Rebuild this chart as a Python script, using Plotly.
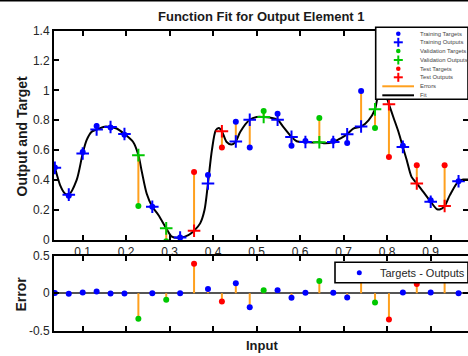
import plotly.graph_objects as go

W, H = 468, 356

# ---------------- data ----------------
x_in = [0.036, 0.068, 0.100, 0.132, 0.164, 0.196, 0.228, 0.260, 0.292, 0.324,
        0.356, 0.388, 0.420, 0.452, 0.484, 0.516, 0.548, 0.580, 0.612, 0.644,
        0.676, 0.708, 0.740, 0.772, 0.804, 0.836, 0.868, 0.900, 0.932, 0.964]
targets = [0.485, 0.295, 0.588, 0.762, 0.751, 0.703, 0.227, 0.222, -0.008, 0.016,
           0.455, 0.435, 0.618, 0.790, 0.618, 0.862, 0.844, 0.629, 0.662, 0.816,
           0.662, 0.649, 0.995, 0.749, 0.555, 0.630, 0.500, 0.265, 0.500, 0.393]
outputs = [0.482, 0.303, 0.578, 0.738, 0.755, 0.708, 0.567, 0.222, 0.078, 0.016,
           0.062, 0.378, 0.727, 0.658, 0.804, 0.822, 0.804, 0.689, 0.655, 0.653,
           0.655, 0.707, 0.758, 0.873, 0.907, 0.622, 0.378, 0.256, 0.227, 0.393]
sets = ['train', 'train', 'train', 'train', 'train', 'train', 'val', 'train', 'val', 'train',
        'test', 'train', 'test', 'train', 'train', 'val', 'train', 'train', 'train', 'val',
        'train', 'train', 'train', 'val', 'test', 'train', 'test', 'train', 'test', 'train']

fit_x = [0.034, 0.036, 0.048, 0.059, 0.068, 0.086, 0.100, 0.109, 0.120, 0.132,
         0.150, 0.164, 0.178, 0.196, 0.216, 0.228, 0.236, 0.247, 0.260, 0.274,
         0.292, 0.305, 0.324, 0.343, 0.356, 0.370, 0.380, 0.388, 0.397, 0.406,
         0.413, 0.420, 0.431, 0.442, 0.452, 0.462, 0.484, 0.500, 0.516, 0.530,
         0.548, 0.561, 0.580, 0.592, 0.612, 0.630, 0.644, 0.657, 0.676, 0.692,
         0.708, 0.722, 0.740, 0.757, 0.772, 0.778, 0.786, 0.795, 0.804, 0.814,
         0.826, 0.836, 0.845, 0.856, 0.868, 0.883, 0.900, 0.914, 0.922, 0.932,
         0.944, 0.964, 0.975, 0.986]
fit_y = [0.495, 0.482, 0.367, 0.311, 0.303, 0.400, 0.578, 0.667, 0.722, 0.738,
         0.757, 0.755, 0.745, 0.708, 0.655, 0.567, 0.455, 0.311, 0.222, 0.167,
         0.078, 0.022, 0.016, 0.033, 0.062, 0.111, 0.200, 0.378, 0.600, 0.733,
         0.748, 0.727, 0.655, 0.638, 0.658, 0.722, 0.804, 0.822, 0.822, 0.818,
         0.804, 0.756, 0.689, 0.660, 0.655, 0.652, 0.653, 0.646, 0.655, 0.678,
         0.707, 0.745, 0.758, 0.800, 0.873, 0.955, 1.000, 0.980, 0.907, 0.822,
         0.722, 0.622, 0.533, 0.422, 0.378, 0.322, 0.256, 0.207, 0.205, 0.227,
         0.300, 0.393, 0.404, 0.404]

x_ticks = [0.1, 0.2, 0.3, 0.4, 0.5, 0.6, 0.7, 0.8, 0.9]
x_tick_text = ['0.1', '0.2', '0.3', '0.4', '0.5', '0.6', '0.7', '0.8', '0.9']
y_ticks_top = [0, 0.2, 0.4, 0.6, 0.8, 1.0, 1.2, 1.4]
y_tick_text_top = ['0', '0.2', '0.4', '0.6', '0.8', '1', '1.2', '1.4']
y_ticks_err = [-0.5, 0, 0.5]
y_tick_text_err = ['-0.5', '0', '0.5']

legend_labels = ['Training Targets', 'Training Outputs', 'Validation Targets',
                 'Validation Outputs', 'Test Targets', 'Test Outputs', 'Errors', 'Fit']

title_text = 'Function Fit for Output Element 1'
ylabel_top = 'Output and Target'
ylabel_err = 'Error'
xlabel = 'Input'
legend_err = 'Targets - Outputs'

# ---------------- styles ----------------
COL = {'train': '#0000FF', 'val': '#00C800', 'test': '#FF0000'}
ORANGE = '#FFA01E'
FONT = 'Liberation Sans, Arial, sans-serif'
TXT = '#262626'


def px(x):
    return min(x / W, 1.0)


def py(y):
    return 1 - y / H


errors = [t - o for t, o in zip(targets, outputs)]

fig = go.Figure()

# fit line
fig.add_trace(go.Scatter(x=fit_x, y=fit_y, mode='lines',
                         line=dict(color='black', width=2, shape='spline', smoothing=0.8),
                         xaxis='x', yaxis='y', showlegend=False, hoverinfo='skip'))

# error segments (top)
ex, ey = [], []
for xv, t, o in zip(x_in, targets, outputs):
    ex += [xv, xv, None]
    ey += [t, o, None]
fig.add_trace(go.Scatter(x=ex, y=ey, mode='lines', line=dict(color=ORANGE, width=2),
                         xaxis='x', yaxis='y', showlegend=False, hoverinfo='skip'))

for s in ['train', 'val', 'test']:
    idx = [i for i, v in enumerate(sets) if v == s]
    fig.add_trace(go.Scatter(x=[x_in[i] for i in idx], y=[targets[i] for i in idx], mode='markers',
                             marker=dict(color=COL[s], size=6, line=dict(width=0)),
                             xaxis='x', yaxis='y', showlegend=False))
    fig.add_trace(go.Scatter(x=[x_in[i] for i in idx], y=[outputs[i] for i in idx], mode='markers',
                             marker=dict(symbol='cross-thin', color=COL[s], size=9,
                                         line=dict(color=COL[s], width=2)),
                             xaxis='x', yaxis='y', showlegend=False))

# error stems (bottom)
sx, sy = [], []
for xv, e in zip(x_in, errors):
    sx += [xv, xv, None]
    sy += [0, e, None]
fig.add_trace(go.Scatter(x=sx, y=sy, mode='lines', line=dict(color=ORANGE, width=2),
                         xaxis='x2', yaxis='y2', showlegend=False, hoverinfo='skip'))
fig.add_trace(go.Scatter(x=x_in, y=errors, mode='markers',
                         marker=dict(color=[COL[s] for s in sets], size=6),
                         xaxis='x2', yaxis='y2', showlegend=False))

# ---------------- axes ----------------
x_left = 0.1 - (82.7 - 54) / 435
x_right = 0.1 + (468 - 82.7) / 435

axis_common = dict(showline=True, linecolor='black', linewidth=2, mirror='ticks',
                   ticks='inside', ticklen=5, tickwidth=1.5, tickcolor='black',
                   showgrid=False, automargin=False,
                   tickfont=dict(family=FONT, size=12, color=TXT))

fig.update_layout(
    width=W, height=H, autosize=False,
    margin=dict(l=0, r=0, t=0, b=0, pad=0, autoexpand=False),
    paper_bgcolor='white', plot_bgcolor='white',
    showlegend=False,
    xaxis=dict(domain=[px(54), 1.0], range=[x_left, x_right], anchor='y', zeroline=False,
               tickvals=x_ticks, ticktext=x_tick_text, **axis_common),
    yaxis=dict(domain=[py(240), py(30.5)], range=[0, 1.4], anchor='x', zeroline=False,
               tickvals=y_ticks_top, ticktext=y_tick_text_top, **axis_common),
    xaxis2=dict(domain=[px(54), 1.0], range=[x_left, x_right], anchor='y2', zeroline=False,
                tickvals=x_ticks, ticktext=x_tick_text, showticklabels=False,
                **axis_common),
    yaxis2=dict(domain=[py(330.7), py(255.7)], range=[-0.5, 0.5], anchor='x2',
                zeroline=True, zerolinecolor='#555555', zerolinewidth=1.5,
                tickvals=y_ticks_err, ticktext=y_tick_text_err, **axis_common),
)

# ---------------- texts ----------------
ann = []
ann.append(dict(text='<b>' + title_text + '</b>', x=px(261), y=py(16.5), xref='paper', yref='paper',
                xanchor='center', yanchor='middle', showarrow=False,
                font=dict(family=FONT, size=13, color='#1a1a1a')))
ann.append(dict(text='<b>' + ylabel_top + '</b>', x=px(21.5), y=py(136), xref='paper', yref='paper',
                xanchor='center', yanchor='middle', showarrow=False, textangle=-90,
                font=dict(family=FONT, size=14, color='#1a1a1a')))
ann.append(dict(text='<b>' + ylabel_err + '</b>', x=px(20.5), y=py(294), xref='paper', yref='paper',
                xanchor='center', yanchor='middle', showarrow=False, textangle=-90,
                font=dict(family=FONT, size=14, color='#1a1a1a')))
ann.append(dict(text='<b>' + xlabel + '</b>', x=px(262), y=py(345), xref='paper', yref='paper',
                xanchor='center', yanchor='middle', showarrow=False,
                font=dict(family=FONT, size=13, color='#1a1a1a')))

shapes = []
# top frame line of the window crop
shapes.append(dict(type='line', xref='paper', yref='paper', x0=0, x1=1, y0=py(0.8), y1=py(0.8),
                   line=dict(color='black', width=1.6), layer='above'))

# ---- top legend ----
shapes.append(dict(type='rect', xref='paper', yref='paper', x0=px(375.7), x1=1.0,
                   y0=py(99.3), y1=py(27.3), fillcolor='white',
                   line=dict(color='black', width=1.6), layer='above'))
leg_y = [33.7, 42.3, 51.0, 60.0, 68.7, 77.3, 86.3, 95.3]
leg_kind = [('dot', 'train'), ('cross', 'train'), ('dot', 'val'), ('cross', 'val'),
            ('dot', 'test'), ('cross', 'test'), ('line', ORANGE), ('line', 'black')]
sx0 = 398.3
for yy, (kind, c), lab in zip(leg_y, leg_kind, legend_labels):
    if kind == 'dot':
        r = 2.3
        shapes.append(dict(type='circle', xref='paper', yref='paper', x0=px(sx0 - r), x1=px(sx0 + r),
                           y0=py(yy + r), y1=py(yy - r), fillcolor=COL[c], line=dict(width=0),
                           layer='above'))
    elif kind == 'cross':
        r = 4.5
        shapes.append(dict(type='line', xref='paper', yref='paper', x0=px(sx0 - r), x1=px(sx0 + r),
                           y0=py(yy), y1=py(yy), line=dict(color=COL[c], width=2), layer='above'))
        shapes.append(dict(type='line', xref='paper', yref='paper', x0=px(sx0), x1=px(sx0),
                           y0=py(yy + r), y1=py(yy - r), line=dict(color=COL[c], width=2), layer='above'))
    else:
        shapes.append(dict(type='line', xref='paper', yref='paper', x0=px(382.3), x1=px(414),
                           y0=py(yy), y1=py(yy), line=dict(color=c, width=2), layer='above'))
    ann.append(dict(text=lab, x=px(418.0), y=py(yy), xref='paper', yref='paper',
                    xanchor='left', yanchor='middle', showarrow=False,
                    font=dict(family=FONT, size=5.9, color='#444444')))

# ---- bottom legend ----
shapes.append(dict(type='rect', xref='paper', yref='paper', x0=px(335), x1=1.0,
                   y0=py(282.7), y1=py(262.3), fillcolor='white',
                   line=dict(color='black', width=1.6), layer='above'))
r = 2.5
shapes.append(dict(type='circle', xref='paper', yref='paper', x0=px(359.3 - r), x1=px(359.3 + r),
                   y0=py(272.7 + r), y1=py(272.7 - r), fillcolor=COL['train'], line=dict(width=0),
                   layer='above'))
ann.append(dict(text=legend_err, x=px(378.3), y=py(272.7), xref='paper', yref='paper',
                xanchor='left', yanchor='middle', showarrow=False,
                font=dict(family=FONT, size=11, color=TXT)))

fig.update_layout(annotations=ann, shapes=shapes)

fig.write_html('out.html')
